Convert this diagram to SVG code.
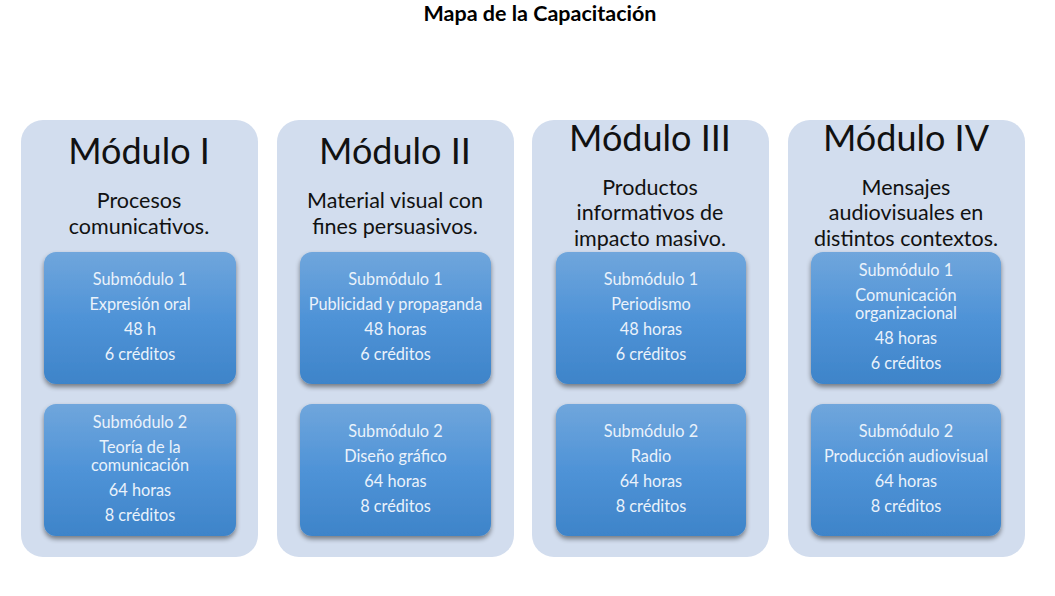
<svg xmlns="http://www.w3.org/2000/svg" width="1055" height="596" viewBox="0 0 1055 596">
<defs>
<linearGradient id="sg" x1="0" y1="0" x2="0" y2="1">
<stop offset="0" stop-color="#70A6DC"/>
<stop offset="0.5" stop-color="#4F93D7"/>
<stop offset="1" stop-color="#3E84C9"/>
</linearGradient>
<filter id="sh" x="-10%" y="-10%" width="120%" height="125%">
<feGaussianBlur in="SourceAlpha" stdDeviation="2.5"/>
<feOffset dy="3" result="b"/>
<feComponentTransfer><feFuncA type="linear" slope="0.45"/></feComponentTransfer>
<feMerge><feMergeNode/><feMergeNode in="SourceGraphic"/></feMerge>
</filter>
</defs>
<style>
.mod{fill:#D2DDEE}
.sub{fill:url(#sg);filter:url(#sh)}
text{font-family:Lato,"Open Sans",sans-serif;text-anchor:middle}
.t{font-weight:bold;font-size:21.5px;fill:#000}
.h{font-size:36px;fill:#111}
.d{font-size:21.5px;fill:#111}
.s{font-size:16.3px;fill:#EAF2FB}
</style>
<rect width="1055" height="596" fill="#fff"/>
<text class="t" x="540" y="21">Mapa de la Capacitación</text>

<g id="modulo1">
<rect class="mod" x="21" y="120" width="237" height="437" rx="22"/>
<text class="h" x="139" y="164">Módulo I</text>
<text class="d" x="139" y="208">Procesos</text>
<text class="d" x="139" y="234">comunicativos.</text>
</g>
<g id="modulo2">
<rect class="mod" x="277" y="120" width="237" height="437" rx="22"/>
<text class="h" x="395" y="164">Módulo II</text>
<text class="d" x="395" y="208">Material visual con</text>
<text class="d" x="395" y="234">fines persuasivos.</text>
</g>
<g id="modulo3">
<rect class="mod" x="532" y="120" width="237" height="437" rx="22"/>
<text class="h" x="650" y="151">Módulo III</text>
<text class="d" x="650" y="195">Productos</text>
<text class="d" x="650" y="220">informativos de</text>
<text class="d" x="650" y="246">impacto masivo.</text>
</g>
<g id="modulo4">
<rect class="mod" x="788" y="120" width="237" height="437" rx="22"/>
<text class="h" x="906" y="151">Módulo IV</text>
<text class="d" x="906" y="195">Mensajes</text>
<text class="d" x="906" y="220">audiovisuales en</text>
<text class="d" x="906" y="246">distintos contextos.</text>
</g>

<g id="m1s1">
<rect class="sub" x="44" y="252" width="192" height="132" rx="12"/>
<text class="s" x="140" y="285">Submódulo 1</text>
<text class="s" x="140" y="310">Expresión oral</text>
<text class="s" x="140" y="335">48 h</text>
<text class="s" x="140" y="360">6 créditos</text>
</g>
<g id="m1s2">
<rect class="sub" x="44" y="404" width="192" height="132" rx="12"/>
<text class="s" x="140" y="428">Submódulo 2</text>
<text class="s" x="140" y="453">Teoría de la</text>
<text class="s" x="140" y="471">comunicación</text>
<text class="s" x="140" y="496">64 horas</text>
<text class="s" x="140" y="521">8 créditos</text>
</g>
<g id="m2s1">
<rect class="sub" x="300" y="252" width="191" height="132" rx="12"/>
<text class="s" x="395.5" y="285">Submódulo 1</text>
<text class="s" x="395.5" y="310">Publicidad y propaganda</text>
<text class="s" x="395.5" y="335">48 horas</text>
<text class="s" x="395.5" y="360">6 créditos</text>
</g>
<g id="m2s2">
<rect class="sub" x="300" y="404" width="191" height="132" rx="12"/>
<text class="s" x="395.5" y="437">Submódulo 2</text>
<text class="s" x="395.5" y="462">Diseño gráfico</text>
<text class="s" x="395.5" y="487">64 horas</text>
<text class="s" x="395.5" y="512">8 créditos</text>
</g>
<g id="m3s1">
<rect class="sub" x="556" y="252" width="190" height="132" rx="12"/>
<text class="s" x="651" y="285">Submódulo 1</text>
<text class="s" x="651" y="310">Periodismo</text>
<text class="s" x="651" y="335">48 horas</text>
<text class="s" x="651" y="360">6 créditos</text>
</g>
<g id="m3s2">
<rect class="sub" x="556" y="404" width="190" height="132" rx="12"/>
<text class="s" x="651" y="437">Submódulo 2</text>
<text class="s" x="651" y="462">Radio</text>
<text class="s" x="651" y="487">64 horas</text>
<text class="s" x="651" y="512">8 créditos</text>
</g>
<g id="m4s1">
<rect class="sub" x="811" y="252" width="190" height="132" rx="12"/>
<text class="s" x="906" y="276">Submódulo 1</text>
<text class="s" x="906" y="301">Comunicación</text>
<text class="s" x="906" y="319">organizacional</text>
<text class="s" x="906" y="344">48 horas</text>
<text class="s" x="906" y="369">6 créditos</text>
</g>
<g id="m4s2">
<rect class="sub" x="811" y="404" width="190" height="132" rx="12"/>
<text class="s" x="906" y="437">Submódulo 2</text>
<text class="s" x="906" y="462">Producción audiovisual</text>
<text class="s" x="906" y="487">64 horas</text>
<text class="s" x="906" y="512">8 créditos</text>
</g>
<g id="connectors"/>
</svg>
